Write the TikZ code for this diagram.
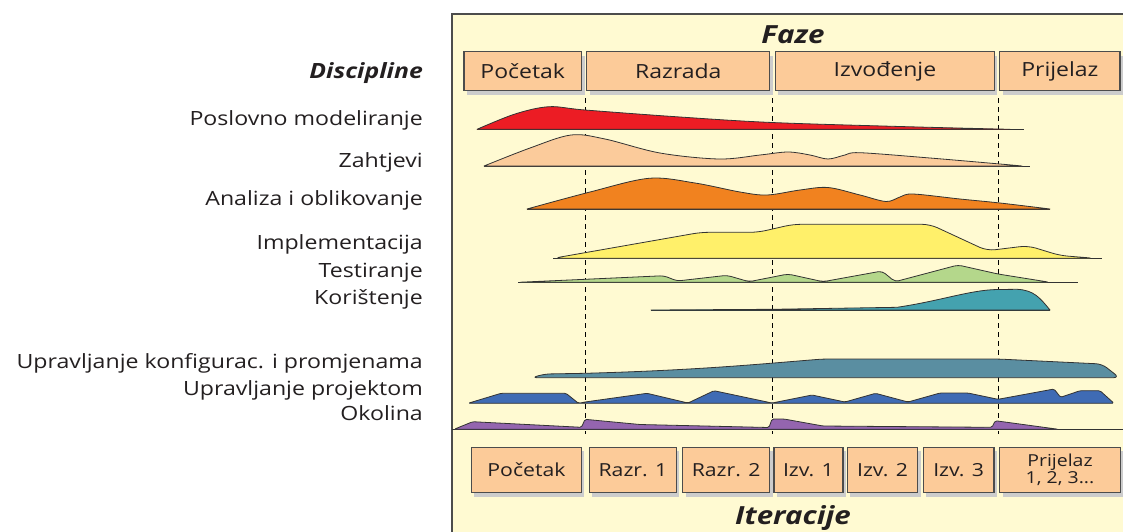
\documentclass[tikz,border=0pt]{standalone}
\usepackage{fontspec}
\setmainfont{Open Sans}[FakeStretch=1.18]
\usetikzlibrary{shadows}
\definecolor{panelbg}{HTML}{FFFAD2}
\definecolor{boxfill}{HTML}{FCCB99}
\definecolor{cRed}{HTML}{EC1C24}
\definecolor{cPeach}{HTML}{FBCB9B}
\definecolor{cOrange}{HTML}{F1821F}
\definecolor{cYellow}{HTML}{FFF06A}
\definecolor{cGreen}{HTML}{B4D78B}
\definecolor{cTeal}{HTML}{44A2AF}
\definecolor{cConf}{HTML}{5A8EA1}
\definecolor{cBlue}{HTML}{3F6BB4}
\definecolor{cPurple}{HTML}{9465AF}
\definecolor{txt}{HTML}{231F20}
\begin{document}
\begin{tikzpicture}[x=1pt,y=-1pt,
  every node/.style={text=txt},
  disc/.style={anchor=base east, inner sep=0pt, font=\fontsize{19.6}{22}\selectfont},
  hdr/.style={font=\fontsize{25}{27}\selectfont\bfseries\itshape, inner sep=0pt},
  pbox/.style={draw=black!70, line width=1.2pt, fill=boxfill, inner sep=0pt, minimum height=39pt,
    font=\fontsize{19.5}{21}\selectfont,
    drop shadow={shadow xshift=3pt, shadow yshift=-4pt, fill=black!20, opacity=1}},
  ibox/.style={pbox, minimum height=45.4pt, font=\fontsize{18}{19}\selectfont, align=center},
  area/.style={draw=black!80, line width=0.8pt, line join=round},
  baseln/.style={draw=black!80, line width=0.8pt},
  phline/.style={draw=black, line width=0.9pt, dash pattern=on 5pt off 4pt}
]
\path[use as bounding box] (0,0) rectangle (1123,531);
\clip (0,0) rectangle (1123,531);

% panel
\draw[fill=panelbg, draw=black!70, line width=1.5pt] (452,14) rectangle (1140,545);

% titles
\node[hdr] (faze) at (793,35) {Faze};
\node[hdr] (iter) at (793,518) {Iteracije};

% phase boxes
\node[pbox, minimum width=117.5pt] (p1) at (522.75,71.2) {Početak};
\node[pbox, minimum width=183pt] (p2) at (678.25,71.2) {Razrada};
\node[pbox, minimum width=219pt] (p3) at (884.9,71.2) {Izvođenje};
\node[pbox, minimum width=120.3pt] (p4) at (1059.85,71.2) {Prijelaz};

% iteration boxes
\node[ibox, minimum width=110pt] (i1) at (526.45,470) {Početak};
\node[ibox, minimum width=87pt] (i2) at (632.95,470) {Razr. 1};
\node[ibox, minimum width=87pt] (i3) at (726.15,470) {Razr. 2};
\node[ibox, minimum width=69pt] (i4) at (808.45,470) {Izv. 1};
\node[ibox, minimum width=70.6pt] (i5) at (882.5,470) {Izv. 2};
\node[ibox, minimum width=70.6pt] (i6) at (958.7,470) {Izv. 3};
\node[ibox, minimum width=120.6pt, font=\fontsize{16.5}{17}\selectfont] (i7) at (1060,470) {Prijelaz\\1, 2, 3...};

% phase separators
\coordinate (s1t) at (585,98); \coordinate (s1b) at (585,434);
\coordinate (s2t) at (772,98); \coordinate (s2b) at (772,434);
\coordinate (s3t) at (998,98); \coordinate (s3b) at (998,434);
\draw[phline] (s1t) -- (s1b);
\draw[phline] (s2t) -- (s2b);
\draw[phline] (s3t) -- (s3b);

% Poslovno modeliranje
\draw[baseln] (477,129.3) -- (1024,129.3);
\filldraw[area, fill=cRed] plot[smooth, tension=0.55] coordinates {(477,129.3) (515,114) (549,106.7) (585,110) (680,117) (772,122.5) (900,126.5) (1010,129.3)} -- cycle;

% Zahtjevi
\draw[baseln] (484,166) -- (1030,166);
\filldraw[area, fill=cPeach] plot[smooth, tension=0.55] coordinates {(484,166) (530,148) (571,135) (605,139) (660,153) (719,159) (760,155) (788,152) (810,155) (828,159) (845,155) (860,152.7) (930,158) (1000,164) (1022,166)} -- cycle;

% Analiza i oblikovanje
\draw[baseln] (527,209) -- (1050,209);
\filldraw[area, fill=cOrange] plot[smooth, tension=0.55] coordinates {(527,209) (590,192) (649,178.3) (695,183) (740,192) (767,195) (800,190) (828,187.5) (860,195) (886,201.5) (900,197) (913,194) (960,199) (1000,203) (1050,209)} -- cycle;

% Implementacija
\draw[baseln] (553,258.3) -- (1102,258.3);
\filldraw[area, fill=cYellow, rounded corners=8pt] (553,258.3) -- (701,232.3) -- (758,232.3) -- (793,224.3) -- (930,224.3) -- (987,250.7) -- (1028,245.7) -- (1060,255.5) -- (1095,258.3) -- cycle;

% Testiranje
\draw[baseln] (518,282.3) -- (1078,282.3);
\filldraw[area, fill=cGreen, rounded corners=4pt] (518,282.3) -- (585,279.3) -- (664,275.7) -- (677,281) -- (727,275.3) -- (749,281.7) -- (788,274) -- (823,281.7) -- (882,271) -- (895,281.7) -- (958,265) -- (998,274) -- (1050,282.3) -- cycle;

% Koristenje
\draw[baseln] (651,310) -- (1050,310);
\filldraw[area, fill=cTeal] (651,310) -- (772,309.3) -- (897,307.3) .. controls (940,301) and (970,290) .. (997,289.5) -- (1017,289.3) .. controls (1034,290) and (1040,298) .. (1050,310) -- cycle;

% Upravljanje konfiguracijom
\filldraw[area, fill=cConf, rounded corners=6pt] (531.5,377.7) -- (544.5,374) -- (585,373.3) .. controls (700,370) and (760,364) .. (823,359) -- (998,359) -- (1102,364) -- (1119.5,377.7) -- cycle;

% Upravljanje projektom
\filldraw[area, fill=cBlue, rounded corners=1.5pt] (468,403.3) -- (501,393.3) -- (566,393.3) -- (578.5,403.3) -- (585,402) -- (647,393.3) -- (688,403) -- (714,390.7) -- (772,403) -- (812,395) -- (845,402) -- (875.5,393.3) -- (908,402) -- (940,393) -- (968,393) -- (998,399.3) -- (1054,389) -- (1060.6,397.3) -- (1080,390.7) -- (1100,390.7) -- (1114,403.3) -- cycle;

% Okolina
\draw[baseln] (452,429.3) -- (1123,429.3);
\filldraw[area, fill=cPurple, rounded corners=1.5pt] (454,429.3) -- (472.7,421.7) -- (581.5,427.3) -- (585,419.3) -- (640,424.5) -- (769,427.5) -- (772,419) -- (784,419) -- (823,426) -- (992,427.3) -- (995.3,420.7) -- (1058.5,429.3) -- cycle;

% discipline labels
\node[disc, font=\fontsize{21}{23}\selectfont\bfseries\itshape] (d0) at (423,78.5) {Discipline};
\node[disc] (d1) at (423,125) {Poslovno modeliranje};
\node[disc] (d2) at (423,167) {Zahtjevi};
\node[disc] (d3) at (423,205) {Analiza i oblikovanje};
\node[disc] (d4) at (423,249.5) {Implementacija};
\node[disc] (d5) at (423,277) {Testiranje};
\node[disc] (d6) at (423,304) {Korištenje};
\node[disc] (d7) at (423,368.3) {Upravljanje konfigurac. i promjenama};
\node[disc] (d8) at (423,395) {Upravljanje projektom};
\node[disc] (d9) at (423,420.7) {Okolina};
\end{tikzpicture}
\end{document}
